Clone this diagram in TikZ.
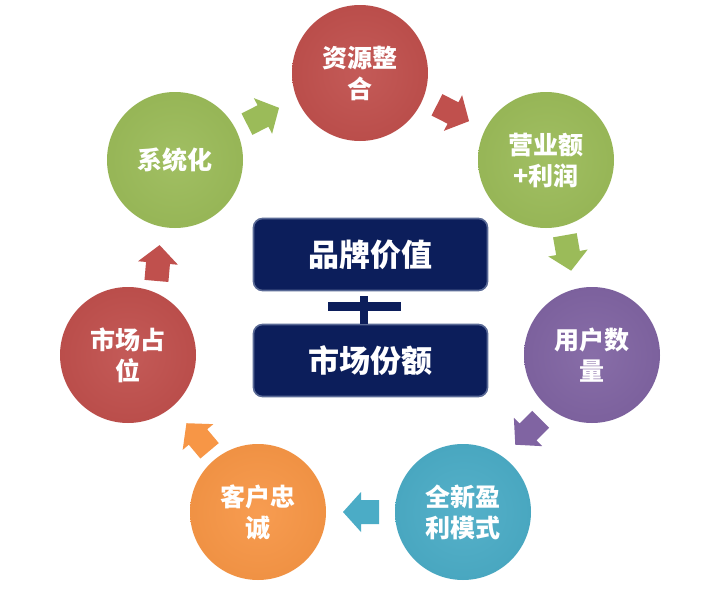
\documentclass[tikz,border=0pt]{standalone}
\usepackage{fontspec}
\newfontfamily\cjk{Noto Sans CJK SC}
\definecolor{cred}{HTML}{C0504D}
\definecolor{cgreen}{HTML}{9BBB59}
\definecolor{cpurple}{HTML}{8064A2}
\definecolor{cteal}{HTML}{4BACC6}
\definecolor{corange}{HTML}{F79646}
\definecolor{navy}{HTML}{0C1E5B}
\definecolor{navyedge}{HTML}{5A6A96}
\tikzset{
  circ/.style={circle, minimum size=136pt, inner sep=0pt, align=center, text=white,
    inner color=#1!94!white, outer color=#1!97!black,
    font=\cjk\bfseries\fontsize{25}{31}\selectfont},
  bigbox/.style={rectangle, rounded corners=9pt, fill=navy, draw=navyedge, line width=1.6pt,
    minimum width=234pt, minimum height=72pt, text=white, font=\cjk\bfseries\fontsize{31}{36}\selectfont},
  blockarrow/.pic={\fill[pic actions] (-18,-12) -- (0,-12) -- (0,-20) -- (18,0) -- (0,20) -- (0,12) -- (-18,12) -- cycle;}
}
\begin{document}
\begin{tikzpicture}[x=1pt,y=-1pt]
\useasboundingbox[fill=white] (0,0) rectangle (718,597);
% circles
\node[circ=cred]    (zy) at (360,73)  {资源整\\合};
\node[circ=cgreen]  (yy) at (546,160) {营业额\\+利润};
\node[circ=cpurple] (yh) at (592,355) {用户数\\量};
\node[circ=cteal]   (qx) at (463,512) {全新盈\\利模式};
\node[circ=corange] (kh) at (258,512) {客户忠\\诚};
\node[circ=cred]    (sc) at (128,355) {市场占\\位};
\node[circ=cgreen]  (xt) at (175,160) {系统化};
% block arrows
\pic[fill=cgreen, rotate=27]   at (263,116) {blockarrow};
\pic[fill=cred, rotate=-27]    at (453,113) {blockarrow};
\pic[fill=cgreen, rotate=-80]  at (568,253) {blockarrow};
\pic[fill=cpurple, rotate=-135] at (528,432) {blockarrow};
\pic[fill=cteal, rotate=180]   at (361,512) {blockarrow};
\pic[fill=corange, rotate=130] at (198,437) {blockarrow};
\pic[fill=cred, rotate=85]     at (158,263) {blockarrow};
% center boxes
\node[bigbox] (pp) at (370.5,254.5) {品牌价值};
\node[bigbox] (sf) at (370.5,360.5) {市场份额};
\fill[navy] (328,302) rectangle (401,311);
\fill[navy] (360,296) rectangle (368,324);
\end{tikzpicture}
\end{document}
